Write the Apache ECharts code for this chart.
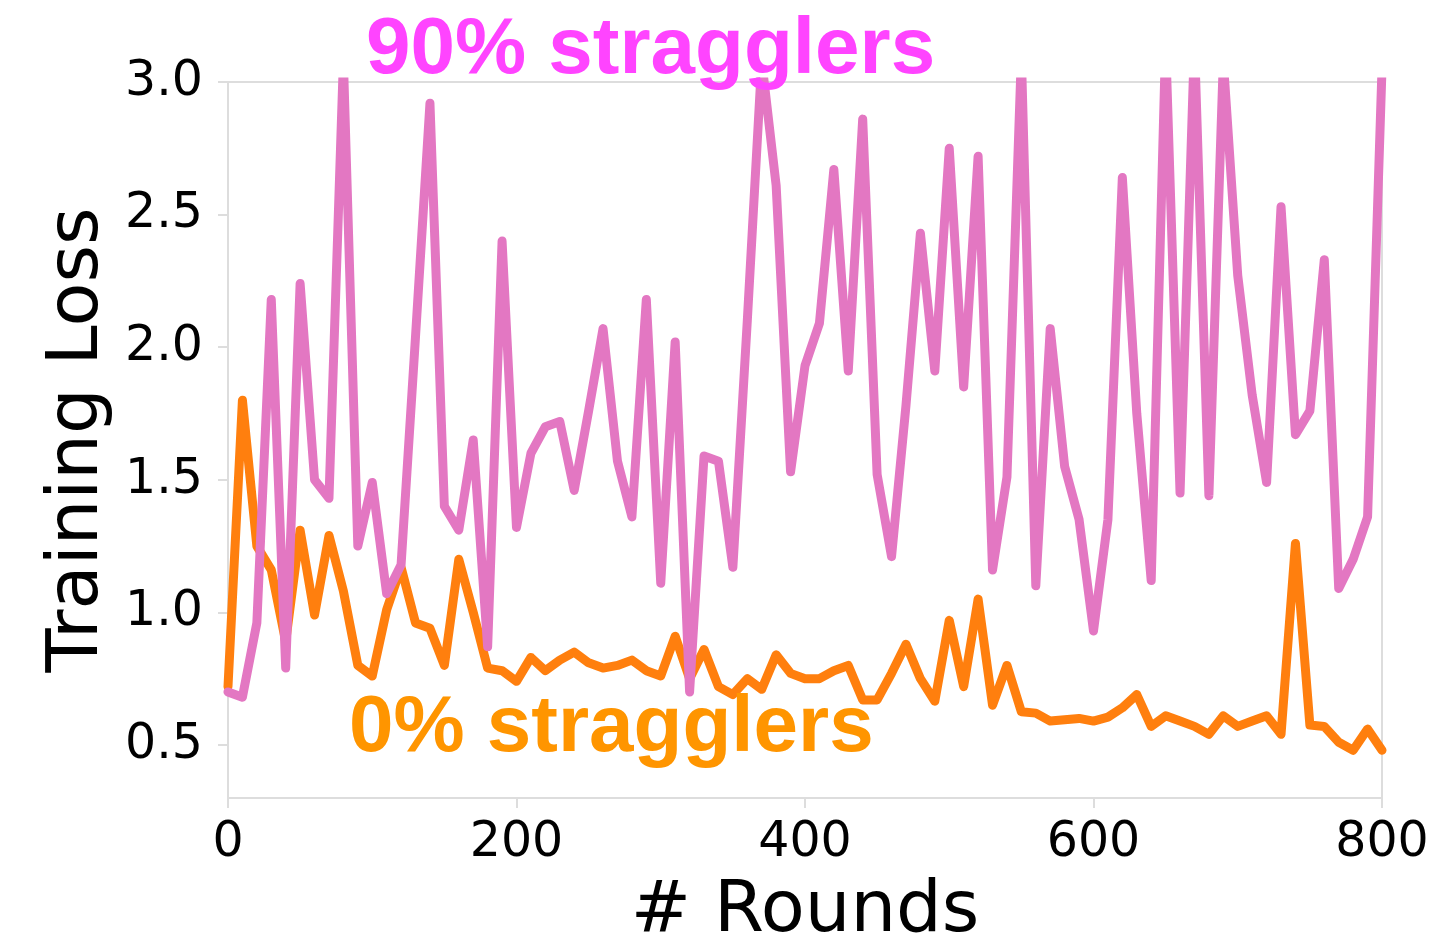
<!DOCTYPE html>
<html>
<head>
<meta charset="utf-8">
<title>Training Loss vs Rounds</title>
<script src="https://cdn.jsdelivr.net/npm/echarts@6/dist/echarts.min.js"></script>
<style>
  html, body { margin: 0; padding: 0; background: #ffffff; }
  #chart { width: 1450px; height: 945px; }
</style>
</head>
<body>
<div id="chart"></div>
<script>
// Communication rounds (x values)
const rounds = [0, 10, 20, 30, 40, 50, 60, 70, 80, 90,
  100, 110, 120, 130, 140, 150, 160, 170, 180, 190,
  200, 210, 220, 230, 240, 250, 260, 270, 280, 290,
  300, 310, 320, 330, 340, 350, 360, 370, 380, 390,
  400, 410, 420, 430, 440, 450, 460, 470, 480, 490,
  500, 510, 520, 530, 540, 550, 560, 570, 580, 590,
  600, 610, 620, 630, 640, 650, 660, 670, 680, 690,
  700, 710, 720, 730, 740, 750, 760, 770, 780, 790, 800];

// Training loss with 90% stragglers
const loss90 = [0.70, 0.68, 0.96, 2.18, 0.79, 2.24, 1.50, 1.43, 3.08, 1.25,
  1.49, 1.07, 1.18, 2.04, 2.92, 1.40, 1.31, 1.65, 0.87, 2.40,
  1.32, 1.60, 1.70, 1.72, 1.46, 1.76, 2.07, 1.57, 1.36, 2.18,
  1.11, 2.02, 0.70, 1.59, 1.57, 1.17, 2.10, 3.08, 2.61, 1.53,
  1.93, 2.09, 2.67, 1.91, 2.86, 1.52, 1.21, 1.78, 2.43, 1.91,
  2.75, 1.85, 2.72, 1.16, 1.51, 3.10, 1.10, 2.07, 1.55, 1.35,
  0.93, 1.35, 2.64, 1.75, 1.12, 3.15, 1.45, 3.15, 1.44, 3.08,
  2.27, 1.82, 1.49, 2.53, 1.67, 1.76, 2.33, 1.09, 1.20, 1.36, 3.05];

// Training loss with 0% stragglers
const loss0 = [0.72, 1.80, 1.25, 1.16, 0.89, 1.31, 0.99, 1.29, 1.08, 0.80,
  0.76, 1.01, 1.17, 0.96, 0.94, 0.80, 1.20, 1.00, 0.79, 0.78,
  0.74, 0.83, 0.78, 0.82, 0.85, 0.81, 0.79, 0.80, 0.82, 0.78,
  0.76, 0.91, 0.75, 0.86, 0.72, 0.69, 0.75, 0.71, 0.84, 0.77,
  0.75, 0.75, 0.78, 0.80, 0.67, 0.67, 0.77, 0.88, 0.75, 0.665,
  0.97, 0.72, 1.05, 0.65, 0.80, 0.625, 0.62, 0.59, 0.595, 0.60,
  0.59, 0.605, 0.64, 0.69, 0.57, 0.61, 0.59, 0.57, 0.54, 0.61,
  0.57, 0.59, 0.61, 0.54, 1.26, 0.575, 0.57, 0.51, 0.48, 0.56, 0.48];

// Tick labels
const yTicks = [0.5, 1.0, 1.5, 2.0, 2.5, 3.0];
const xTicks = [0, 200, 400, 600, 800];

const pair = (xs, ys) => xs.map((x, i) => [x, ys[i]]);

const chart = echarts.init(document.getElementById('chart'), null, { renderer: 'canvas' });

const axisGray = '#dddddd';
const tickFont = { fontFamily: 'DejaVu Sans', fontSize: 49, color: '#000000' };

chart.setOption({
  animation: false,
  backgroundColor: '#ffffff',
  grid: {
    left: 228, right: 68, top: 82, bottom: 147,
    outerBoundsMode: 'none',
    containLabel: false,
    show: true, borderColor: axisGray, borderWidth: 2, backgroundColor: 'transparent'
  },
  xAxis: {
    type: 'value',
    min: xTicks[0], max: xTicks[xTicks.length - 1], interval: 200,
    name: '# Rounds', nameLocation: 'middle', nameGap: 78,
    nameTextStyle: { fontFamily: 'DejaVu Sans', fontSize: 72, color: '#000000' },
    axisLine: { show: true, lineStyle: { color: axisGray, width: 2 } },
    axisTick: { show: true, length: 10, lineStyle: { color: axisGray, width: 2 } },
    axisLabel: Object.assign({ margin: 21, showMinLabel: true, showMaxLabel: true,
      customValues: xTicks, formatter: v => String(v) }, tickFont),
    splitLine: { show: false }
  },
  yAxis: {
    type: 'value',
    min: 0.3, max: 3.0,
    name: 'Training Loss', nameLocation: 'middle', nameGap: 113,
    nameTextStyle: { fontFamily: 'DejaVu Sans', fontSize: 72, color: '#000000' },
    axisLine: { show: true, lineStyle: { color: axisGray, width: 2 } },
    axisTick: { show: true, length: 10, customValues: yTicks, lineStyle: { color: axisGray, width: 2 } },
    axisLabel: Object.assign({ margin: 25, customValues: yTicks, formatter: v => v.toFixed(1) }, tickFont),
    splitLine: { show: false }
  },
  series: [
    {
      name: '0% stragglers',
      type: 'line',
      data: pair(rounds, loss0),
      showSymbol: false,
      clip: true,
      z: 2,
      lineStyle: { color: '#ff7f0e', width: 9, cap: 'round', join: 'round' }
    },
    {
      name: '90% stragglers',
      type: 'line',
      data: pair(rounds, loss90),
      showSymbol: false,
      clip: true,
      z: 3,
      lineStyle: { color: '#e377c2', width: 9, cap: 'round', join: 'round' }
    }
  ],
  graphic: [
    {
      type: 'text', z: 100,
      left: 366, top: 11,
      style: {
        text: '90% stragglers',
        fill: '#ff44ff',
        font: 'bold 80px "Liberation Sans", Arial, sans-serif'
      }
    },
    {
      type: 'text', z: 100,
      left: 349, top: 689,
      style: {
        text: '0% stragglers',
        fill: '#ff9500',
        font: 'bold 80px "Liberation Sans", Arial, sans-serif'
      }
    }
  ]
});
</script>
</body>
</html>
